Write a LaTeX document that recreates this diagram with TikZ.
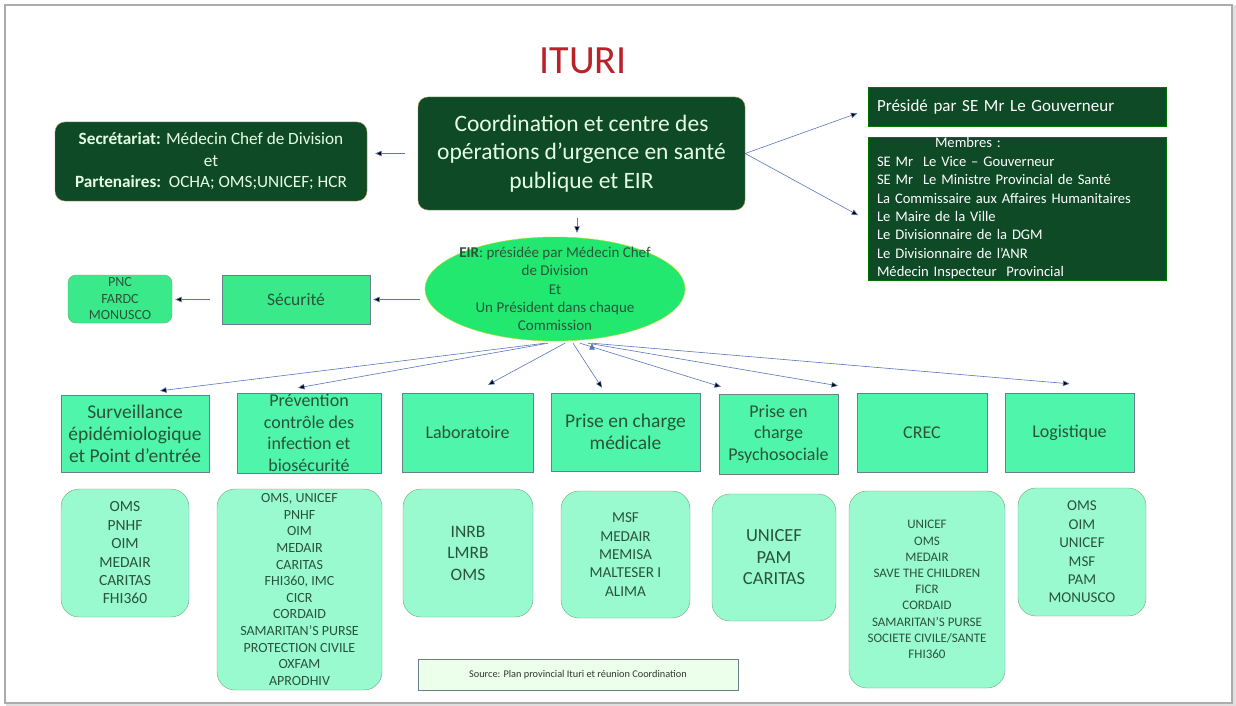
\documentclass[tikz,border=0pt]{standalone}
\usepackage{fontspec}
\setmainfont{Carlito}
\usetikzlibrary{arrows.meta, positioning, shapes}

\definecolor{darkgreen}{RGB}{14,74,38}
\definecolor{goldline}{RGB}{150,140,70}
\definecolor{mint}{RGB}{80,245,172}
\definecolor{lightmint}{RGB}{152,250,206}
\definecolor{eirgreen}{RGB}{34,232,112}
\definecolor{secgreen}{RGB}{58,234,138}
\definecolor{textgreen}{RGB}{42,84,58}
\definecolor{commline}{RGB}{105,128,140}
\definecolor{partline}{RGB}{110,170,115}
\definecolor{arrowblue}{RGB}{88,118,190}
\definecolor{titlered}{RGB}{184,34,40}

\begin{document}
\begin{tikzpicture} [x=1pt, y=-1pt,
    darkbox/.style={draw=goldline, fill=darkgreen, text=white!90!green, rounded corners=10pt, align=center, inner sep=0pt},
    membox/.style={draw=green!45!black, fill=darkgreen, text=white, align=left, inner xsep=9pt, inner ysep=0pt, text width=280pt},
    comm/.style={rectangle, draw=commline, fill=mint, text=textgreen, align=center, inner sep=0pt, font=\fontsize{18}{21.5}\selectfont},
    partners/.style={rectangle, rounded corners=18pt, draw=partline, fill=lightmint, text=textgreen, align=center, inner sep=0pt},
    arrow/.style={-{Triangle[length=6.5pt,width=5.5pt]}, draw=arrowblue, line width=0.6pt}]

\useasboundingbox (0,0) rectangle (1236,706);

% slide frame
\draw [gray!25, line width=3pt] (7,7) rectangle (1234,705);
\draw [gray!65, line width=1.2pt, fill=white] (5,5) rectangle (1232,703);

\node (title) [text=titlered, font=\fontsize{40}{44}\selectfont] at (583,61) {ITURI};

% top level
\node (main) [darkbox, minimum width=327pt, minimum height=113pt, font=\fontsize{23.5}{28.5}\selectfont] at (581.5,153.5)
  {Coordination et centre des\\opérations d’urgence en santé\\publique et EIR};

\node (secr) [darkbox, minimum width=312pt, minimum height=79pt, font=\fontsize{17.2}{21.5}\selectfont] at (211,161.5)
  {\textbf{Secrétariat:} Médecin Chef de Division\\et\\\textbf{Partenaires:}\ \ OCHA; OMS;UNICEF; HCR};

\node (pres) [membox, minimum height=39pt, font=\fontsize{17}{19}\selectfont] at (1017,106.5)
  {Présidé par SE Mr Le Gouverneur};

\node (memb) [membox, minimum height=143pt, font=\fontsize{14.6}{18.4}\selectfont] at (1017,208.5)
  {\hspace*{58pt}Membres\ :\\
   SE Mr\ \ Le Vice -- Gouverneur\\
   SE Mr\ \ Le Ministre Provincial de Santé\\
   La Commissaire aux Affaires Humanitaires\\
   Le Maire de la Ville\\
   Le Divisionnaire de la DGM\\
   Le Divisionnaire de l’ANR\\
   Médecin Inspecteur\ \ Provincial};

% EIR
\node (eir) [ellipse, draw=yellow!70!green, fill=eirgreen, minimum width=260pt, minimum height=104pt, inner sep=0pt,
  label={[text=textgreen, align=center, font=\fontsize{15}{18.2}\selectfont]center:{\textbf{EIR}: présidée par Médecin Chef\\de Division\\Et\\Un Président dans chaque\\Commission}}] at (555,289) {};

\node (secu) [comm, fill=secgreen, font=\fontsize{17.5}{20}\selectfont, minimum width=148pt, minimum height=49pt] at (296,299.5) {Sécurité};

\node (pnc) [partners, fill=secgreen, rounded corners=8pt, minimum width=104pt, minimum height=48pt, font=\fontsize{14}{16.5}\selectfont] at (120,299)
  {PNC\\FARDC\\MONUSCO};

% commissions
\node (surv) [comm, minimum width=148pt, minimum height=77pt, font=\fontsize{19.5}{22}\selectfont] at (135,433.5) {Surveillance\\épidémiologique\\et Point d’entrée};
\node (prev) [comm, minimum width=144pt, minimum height=80pt] at (309,433) {Prévention\\contrôle des\\infection et\\biosécurité};
\node (labo) [comm, minimum width=131pt, minimum height=79pt] at (467.5,432.5) {Laboratoire};
\node (pecm) [comm, minimum width=149pt, minimum height=78pt, font=\fontsize{19.5}{22}\selectfont] at (625.5,432) {Prise en charge\\médicale};
\node (psy) [comm, minimum width=119pt, minimum height=80pt] at (778.5,434) {Prise en\\charge\\Psychosociale};
\node (crec) [comm, minimum width=130pt, minimum height=79pt] at (922,432.5) {CREC};
\node (logi) [comm, minimum width=129pt, minimum height=79pt] at (1069.5,432.5) {Logistique};

% partners
\node (survp) [partners, minimum width=128pt, minimum height=128pt, font=\fontsize{15.5}{18.4}\selectfont] at (125,553)
  {OMS\\PNHF\\OIM\\MEDAIR\\CARITAS\\FHI360};
\node (prevp) [partners, minimum width=165pt, minimum height=201pt, font=\fontsize{14}{16.6}\selectfont] at (299.5,589.5)
  {OMS, UNICEF\\PNHF\\OIM\\MEDAIR\\CARITAS\\FHI360, IMC\\CICR\\CORDAID\\SAMARITAN’S PURSE\\PROTECTION CIVILE\\OXFAM\\APRODHIV};
\node (labop) [partners, minimum width=130pt, minimum height=128pt, font=\fontsize{17.5}{21.5}\selectfont] at (468,553)
  {INRB\\LMRB\\OMS};
\node (pecmp) [partners, minimum width=129pt, minimum height=127pt, font=\fontsize{15.2}{18.3}\selectfont] at (625.5,554.5)
  {MSF\\MEDAIR\\MEMISA\\MALTESER I\\ALIMA};
\node (psyp) [partners, minimum width=124pt, minimum height=127pt, font=\fontsize{18.5}{21.5}\selectfont] at (774,557.5)
  {UNICEF\\PAM\\CARITAS};
\node (crecp) [partners, minimum width=156pt, minimum height=197pt, font=\fontsize{13}{16.2}\selectfont] at (927,589.5)
  {UNICEF\\OMS\\MEDAIR\\SAVE THE CHILDREN\\FICR\\CORDAID\\SAMARITAN’S PURSE\\SOCIETE CIVILE/SANTE\\FHI360};
\node (logip) [partners, minimum width=128pt, minimum height=128pt, font=\fontsize{15}{18.4}\selectfont] at (1082,552)
  {OMS\\OIM\\UNICEF\\MSF\\PAM\\MONUSCO};

\node (source) [draw=commline, fill=green!8, text=black!80, minimum width=320pt, minimum height=31pt, inner sep=0pt, font=\fontsize{10.3}{12}\selectfont] at (578,674.5)
  {Source: Plan provincial Ituri et réunion Coordination};

% Arrows
\path [arrow]
(main.west) edge [shorten <=13pt, shorten >=8pt] (secr.east |- main.west)
(main.east) edge [shorten >=11pt] ([yshift=-3pt]pres.west)
(main.east) edge [shorten >=11pt] ([yshift=-12pt]memb.west)
([xshift=-4.5pt]main.south) edge [shorten <=8pt, shorten >=4pt] ([xshift=-4.5pt]main.south |- eir.north)
(eir.west |- secu.east) edge [shorten <=5pt, shorten >=3pt] (secu.east)
(secu.west) edge [shorten <=12pt, shorten >=3pt] (pnc.east |- secu.west)
([xshift=-10pt,yshift=-2pt]eir.south) edge ([xshift=25pt,yshift=4pt]surv.north)
([xshift=-7pt,yshift=-2pt]eir.south) edge ([xshift=-11pt,yshift=5pt]prev.north)
([xshift=10pt,yshift=-2pt]eir.south) edge ([xshift=20.5pt,yshift=8pt]labo.north)
([xshift=18pt,yshift=-2pt]eir.south) edge ([xshift=-23.5pt,yshift=5pt]pecm.north)
([xshift=25pt,yshift=-2pt]eir.south) edge ([xshift=-57.5pt,yshift=7pt]psy.north)
([xshift=33pt,yshift=-2pt]eir.south) edge ([xshift=-84pt,yshift=7pt]crec.north)
([xshift=37pt,yshift=-2pt]eir.south) edge ([yshift=9pt]logi.north);
\end{tikzpicture}
\end{document}
